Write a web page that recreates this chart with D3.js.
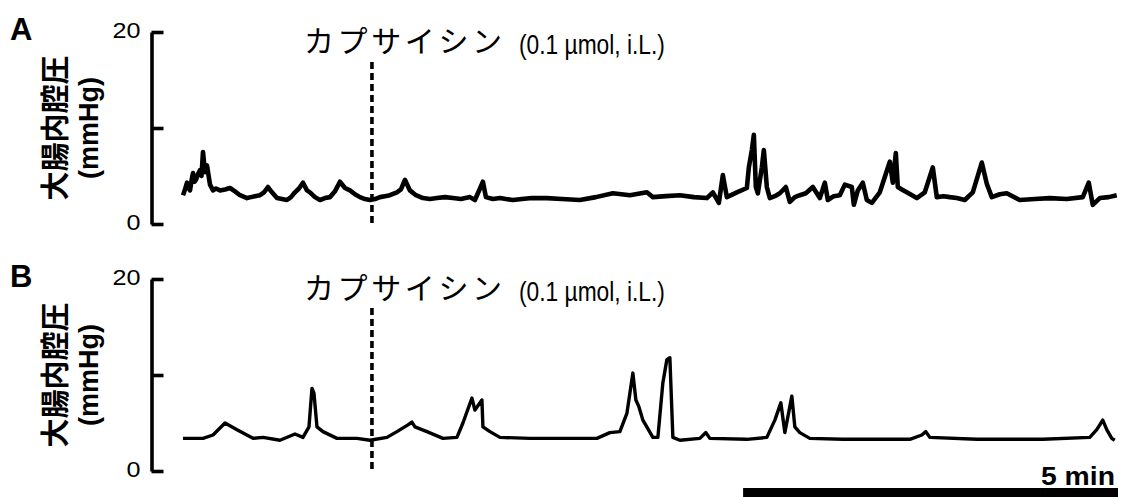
<!DOCTYPE html>
<html><head><meta charset="utf-8">
<script src="https://cdn.jsdelivr.net/npm/d3@7/dist/d3.min.js"></script>
<style>
html,body{margin:0;padding:0;background:#fff;}
svg{display:block;}
</style></head>
<body>
<svg id="chart" width="1125" height="497"></svg>
<script>
// time in seconds, pressure in mmHg
const timeA = [0.8,2.4,4,5.2,6.4,8,8.8,10,11.2,12.8,14.4,15.6,16.8,18.4,20,22.4,24.8,27.2,30.4,34.4,38.4,42.4,46.4,52,55.2,58.4,62.4,65.6,68.8,72,76,80,84,87.2,90.4,93.6,96.8,100,102.4,106.4,110.4,114.4,118.4,122.4,126.4,130.4,134.4,138.4,142.4,146.4,150.4,154.4,158.4,162.4,166.4,172,175.2,178.4,182.4,187.2,192.8,198.4,204,210.4,216.8,223.2,230.4,234.4,240.8,243.2,248.8,254.4,259.2,264.8,272,280,292,304,318.4,331.2,344.8,358.4,372,376.8,387.2,398.4,409.6,420,424.8,429.6,432.8,436,444,452,453.6,456,457.6,459.2,460.8,464,465.6,468,470.4,474.4,478.4,483.2,486.4,490.4,494.4,499.2,504.8,510.4,514.4,516.8,521.6,526.4,530.4,536,537.6,540.8,544.8,548,552,558.4,562.4,566.4,568.8,571.2,572.8,576,580,588,594.4,600.8,604,609.6,614.4,620,626.4,632.8,640,644,648,654.4,660,670.4,682.4,694.4,708,720.8,725.6,728.8,734.4,741.6,748];
const valueA = [3.0,3.6,4.3,3.8,3.5,4.8,5.3,4.4,4.6,5.2,5.6,5.0,7.5,5.4,6.1,4.1,3.5,3.7,3.5,3.6,3.75,3.4,3.0,2.7,2.8,2.9,3.0,3.3,3.85,3.3,2.7,2.6,2.5,2.8,3.3,3.7,4.3,3.5,3.3,2.8,2.5,2.7,2.8,3.4,4.4,3.75,3.5,3.1,2.8,2.6,2.5,2.6,2.8,2.9,3.0,3.3,3.6,4.6,3.5,3.0,2.7,2.6,2.7,2.8,2.7,2.6,2.8,2.5,4.4,2.8,2.6,2.7,2.6,2.5,2.6,2.7,2.7,2.6,2.5,2.8,3.2,3.0,3.3,2.8,2.9,3.0,2.8,2.7,3.3,2.2,5.1,2.8,3.3,3.75,5.9,7.7,9.3,3.85,3.2,5.9,7.7,3.85,2.7,2.9,3.2,3.85,2.3,2.8,3.0,3.2,3.85,2.7,4.3,2.5,2.9,3.0,4.1,3.85,2.0,3.5,4.3,2.5,2.2,3.3,4.9,6.5,4.3,7.4,3.85,3.6,3.3,2.7,3.3,5.9,2.8,2.9,2.8,2.7,2.5,3.3,6.4,4.2,2.8,3.1,3.2,2.5,2.6,2.7,2.6,2.8,4.3,2.0,2.7,2.8,3.0];

const timeB = [0.8,16.8,24.8,34.4,44,56.8,64.8,78.4,90.4,96.8,101.6,104,105.6,108,112.8,124,140,150.4,164,172,180.8,184,186.4,196,208.8,220,224.8,232,234.4,240,240.8,246.4,254.4,278.4,332,342.4,350.4,356,360.8,363.2,365.6,368.8,376.8,380.8,384.8,388,390.4,392.8,398.4,414.4,419.2,422.4,452,468,474.4,479.2,482.4,488,490.4,494.4,502.4,528.8,582.4,592,595.2,598.4,636,688.8,726.4,732,736.8,740,744,746.4];
const valueB = [3.4,3.4,3.75,5.0,4.3,3.4,3.5,3.2,3.85,3.5,4.6,8.6,8.1,4.6,4.1,3.4,3.4,3.2,3.5,4.1,4.8,5.1,4.6,4.1,3.4,3.5,5.0,7.6,6.35,7.4,4.6,4.1,3.5,3.4,3.4,4.0,4.1,6.0,10.2,7.4,6.7,5.3,3.5,3.5,9.2,11.6,11.8,3.5,3.2,3.4,4.0,3.4,3.3,3.5,5.3,7.1,4.0,7.8,4.6,4.0,3.4,3.3,3.3,3.75,4.1,3.5,3.3,3.3,3.5,4.3,5.3,4.3,3.4,3.2];

const yTicks = [0, 10, 20];
const yTickLabels = ["0", "", "20"];
const panelLabels = ["A", "B"];
const drugLabelJa = "カプサイシン";
const drugLabelEn = "(0.1 µmol, i.L.)";
const yLabelJa = "大腸内腔圧";
const yLabelUnit = "(mmHg)";
const drugTime = 152;      // s, dashed marker
const scaleBarLen = 300;   // s (5 min)
const scaleBarLabel = "5 min";
const tMax = 749;

const svg = d3.select("#chart");
const x = d3.scaleLinear().domain([0, tMax]).range([182, 1118]);
const sans = "'Liberation Sans', Arial, sans-serif";
const cjk = "'Noto Sans CJK JP', sans-serif";

// horizontally squeeze/stretch a text (anchored at its x) to a given width
function fitWidth(sel, w) {
  const node = sel.node();
  const nat = node.getComputedTextLength();
  if (!nat) return;
  const x0 = +sel.attr("x") || 0, y0 = +sel.attr("y") || 0;
  const k = w / nat;
  sel.attr("transform", `translate(${x0},${y0}) scale(${k},1)`).attr("x", 0).attr("y", 0);
}

const panels = [
  {label: panelLabels[0], t: timeA, v: valueA, top: 32, bottom: 224, sw: 4.6, dashTop: 62},
  {label: panelLabels[1], t: timeB, v: valueB, top: 279, bottom: 471, sw: 3.4, dashTop: 308}
];

panels.forEach(p => {
  const y = d3.scaleLinear().domain([0, 20]).range([p.bottom, p.top]);
  const g = svg.append("g");

  // y axis
  const ax = g.append("g").attr("transform", "translate(151.5,0)")
    .call(d3.axisLeft(y).tickValues(yTicks).tickSize(-12).tickSizeOuter(0).tickPadding(11)
      .tickFormat((d, i) => yTickLabels[i]));
  ax.select(".domain").attr("stroke", "#000").attr("stroke-width", 3.6);
  ax.selectAll(".tick line").attr("stroke", "#000").attr("stroke-width", 3.6);
  ax.selectAll(".tick text").attr("fill", "#000").attr("dy", "0.24em")
    .style("font-family", sans).style("font-size", "21.5px")
    .each(function(d, i) {
      const s = yTickLabels[i];
      if (s) fitWidth(d3.select(this), s.length * 14);
    });

  // panel letter
  g.append("text").attr("x", 10).attr("y", p.top + 8).text(p.label)
    .style("font-family", sans).style("font-size", "31px").style("font-weight", "bold");

  // y label
  const cy = y(10);
  g.append("text").attr("transform", `translate(66,${cy}) rotate(-90)`).attr("text-anchor", "middle")
    .text(yLabelJa)
    .style("font-family", cjk).style("font-size", "29px").style("font-weight", "700");
  g.append("text").attr("transform", `translate(98,${cy}) rotate(-90)`).attr("text-anchor", "middle")
    .text(yLabelUnit)
    .style("font-family", sans).style("font-size", "27px").style("font-weight", "bold");

  // drug annotation
  g.append("text").attr("x", 304).attr("y", p.top + 20).text(drugLabelJa)
    .attr("textLength", 198).attr("lengthAdjust", "spacing")
    .style("font-family", cjk).style("font-size", "30px");
  const en = g.append("text").attr("x", 519).attr("y", p.top + 22).text(drugLabelEn)
    .style("font-family", sans).style("font-size", "27.5px");
  fitWidth(en, 146);

  // dashed marker
  g.append("line").attr("x1", x(drugTime)).attr("x2", x(drugTime))
    .attr("y1", p.dashTop).attr("y2", p.bottom - 1)
    .attr("stroke", "#000").attr("stroke-width", 3.6).attr("stroke-dasharray", "7,4");

  // trace
  const data = p.t.map((t, i) => [t, p.v[i]]);
  g.append("path").datum(data)
    .attr("d", d3.line().x(d => x(d[0])).y(d => y(d[1])))
    .attr("fill", "none").attr("stroke", "#000").attr("stroke-width", p.sw)
    .attr("stroke-linejoin", "round");
});

// scale bar
svg.append("rect").attr("x", x(tMax - scaleBarLen)).attr("y", 488)
  .attr("width", x(tMax) - x(tMax - scaleBarLen)).attr("height", 10).attr("fill", "#000");
const sb = svg.append("text").attr("x", 1041).attr("y", 485).text(scaleBarLabel)
  .style("font-family", sans).style("font-size", "25px").style("font-weight", "bold");
fitWidth(sb, 74);
</script>
</body></html>
